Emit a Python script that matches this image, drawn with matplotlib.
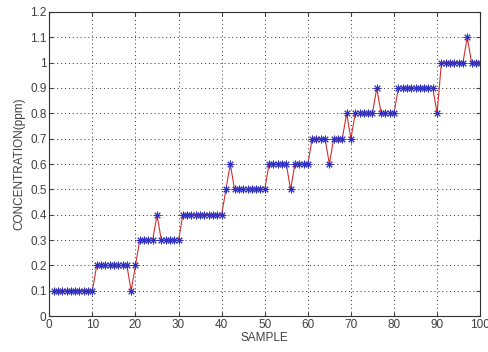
import matplotlib
matplotlib.use('Agg')
import matplotlib.pyplot as plt

plt.rcParams['font.family'] = ['Liberation Sans', 'DejaVu Sans']

# dados
amostras = list(range(1, 101))
concentracao = [
    0.1, 0.1, 0.1, 0.1, 0.1, 0.1, 0.1, 0.1, 0.1, 0.1,
    0.2, 0.2, 0.2, 0.2, 0.2, 0.2, 0.2, 0.2, 0.1, 0.2,
    0.3, 0.3, 0.3, 0.3, 0.4, 0.3, 0.3, 0.3, 0.3, 0.3,
    0.4, 0.4, 0.4, 0.4, 0.4, 0.4, 0.4, 0.4, 0.4, 0.4,
    0.5, 0.6, 0.5, 0.5, 0.5, 0.5, 0.5, 0.5, 0.5, 0.5,
    0.6, 0.6, 0.6, 0.6, 0.6, 0.5, 0.6, 0.6, 0.6, 0.6,
    0.7, 0.7, 0.7, 0.7, 0.6, 0.7, 0.7, 0.7, 0.8, 0.7,
    0.8, 0.8, 0.8, 0.8, 0.8, 0.9, 0.8, 0.8, 0.8, 0.8,
    0.9, 0.9, 0.9, 0.9, 0.9, 0.9, 0.9, 0.9, 0.9, 0.8,
    1.0, 1.0, 1.0, 1.0, 1.0, 1.0, 1.1, 1.0, 1.0, 1.0,
]
xticks = [0, 10, 20, 30, 40, 50, 60, 70, 80, 90, 100]
yticks = [0, 0.1, 0.2, 0.3, 0.4, 0.5, 0.6, 0.7, 0.8, 0.9, 1.0, 1.1, 1.2]
ylabels = ['0', '0.1', '0.2', '0.3', '0.4', '0.5', '0.6', '0.7', '0.8', '0.9', '1', '1.1', '1.2']

fig = plt.figure(figsize=(4.88, 3.52), dpi=100)
ax = fig.add_axes([0.101, 0.102, 0.883, 0.864])

ax.plot(amostras, concentracao, color='#d03030', linewidth=0.8,
        marker=(8, 2, 0), markersize=5.5, markeredgecolor='#3030c0',
        markeredgewidth=0.7)

ax.set_xlim(0, 100)
ax.set_ylim(0, 1.2)
ax.set_xticks(xticks)
ax.set_yticks(yticks)
ax.set_yticklabels(ylabels)
ax.tick_params(direction='in', length=3, labelsize=8.5, colors='#404040',
               top=True, right=True, pad=2)
ax.grid(True, linestyle=(0, (1, 3)), color='#303030', linewidth=0.7)
for s in ax.spines.values():
    s.set_linewidth(0.8)
    s.set_color('#303030')

ax.set_xlabel('SAMPLE', fontsize=8.5, color='#404040', labelpad=1)
ax.set_ylabel('CONCENTRATION(ppm)', fontsize=8.5, color='#404040', labelpad=3)

fig.savefig('out.png', dpi=100)
